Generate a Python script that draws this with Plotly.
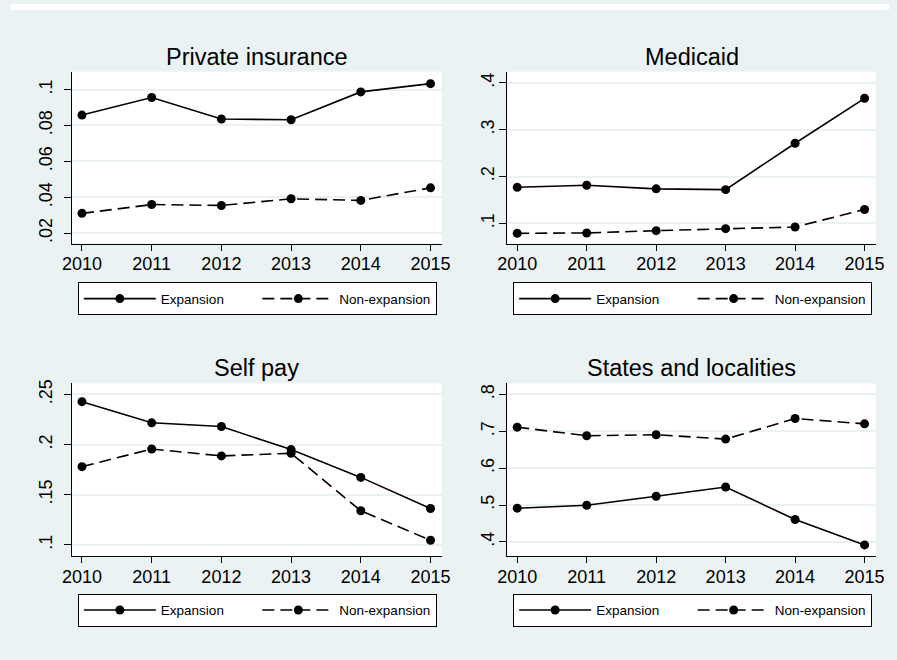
import plotly.graph_objects as go

W, H = 897, 660

years = [2010, 2011, 2012, 2013, 2014, 2015]

titles = ["Private insurance", "Medicaid", "Self pay", "States and localities"]

pi_exp = [0.0858, 0.0956, 0.0836, 0.0832, 0.0987, 0.1033]
pi_non = [0.0311, 0.0360, 0.0355, 0.0392, 0.0383, 0.0453]

med_exp = [0.177, 0.1815, 0.1737, 0.172, 0.271, 0.367]
med_non = [0.0788, 0.0796, 0.0845, 0.0887, 0.0923, 0.1297]

sp_exp = [0.2428, 0.2217, 0.218, 0.195, 0.1673, 0.1363]
sp_non = [0.178, 0.1956, 0.1887, 0.1913, 0.134, 0.1046]

sl_exp = [0.4915, 0.4996, 0.5238, 0.5489, 0.4608, 0.392]
sl_non = [0.7112, 0.688, 0.6907, 0.6789, 0.7346, 0.7203]

pi_ticks = [0.02, 0.04, 0.06, 0.08, 0.1]
pi_ticktext = [".02", ".04", ".06", ".08", ".1"]
med_ticks = [0.1, 0.2, 0.3, 0.4]
med_ticktext = [".1", ".2", ".3", ".4"]
sp_ticks = [0.1, 0.15, 0.2, 0.25]
sp_ticktext = [".1", ".15", ".2", ".25"]
sl_ticks = [0.4, 0.5, 0.6, 0.7, 0.8]
sl_ticktext = [".4", ".5", ".6", ".7", ".8"]

series_names = ["Expansion", "Non-expansion"]

panels = [
    (pi_exp, pi_non, pi_ticks, pi_ticktext, [0.0143, 0.110]),
    (med_exp, med_non, med_ticks, med_ticktext, [0.057, 0.424]),
    (sp_exp, sp_non, sp_ticks, sp_ticktext, [0.089, 0.261]),
    (sl_exp, sl_non, sl_ticks, sl_ticktext, [0.362, 0.830]),
]

BG = "#EAF2F3"
FONT = "Arial, Liberation Sans, sans-serif"

# observed horizontal placement of the paper in the page
X_OFF, W_EFF = 8, 881


def fx(px):
    return (px - X_OFF) / W_EFF


def fy(py):
    return 1 - py / H


# target pixel layout of plot areas (left, right, top, bottom)
boxes = [
    (70, 441, 68, 241),
    (506.3, 876, 68, 241),
    (70, 441, 381.7, 555.3),
    (506.3, 876, 381.7, 555.3),
]
legend_pos = [(76, 280), (512.3, 280), (76, 593.3), (512.3, 593.3)]
ylab_standoff = [5, -2, 5, -2]

fig = go.Figure()
layout = dict(
    width=W, height=H,
    margin=dict(l=0, r=0, t=0, b=0),
    paper_bgcolor=BG,
    plot_bgcolor="white",
    font=dict(family=FONT, color="black"),
    showlegend=True,
    annotations=[],
    shapes=[],
)

for i, (exp, non, tv, tt, yr) in enumerate(panels):
    k = i + 1
    xa = "x" if k == 1 else f"x{k}"
    ya = "y" if k == 1 else f"y{k}"
    lg = "legend" if k == 1 else f"legend{k}"
    l, r, t, b = boxes[i]
    for vals, dash, name in [(exp, "solid", series_names[0]), (non, "12px,6px", series_names[1])]:
        fig.add_trace(go.Scatter(
            x=years, y=vals, mode="lines+markers", name=name,
            line=dict(color="black", width=1.6, dash=dash),
            marker=dict(color="black", size=9),
            xaxis=xa, yaxis=ya, legend=lg, showlegend=True,
        ))
    xkey = "xaxis" if k == 1 else f"xaxis{k}"
    ykey = "yaxis" if k == 1 else f"yaxis{k}"
    layout[xkey] = dict(
        domain=[fx(l), fx(r)], anchor=ya, range=[2009.855, 2015.165],
        tickvals=years, ticktext=[str(y) for y in years],
        showgrid=False, zeroline=False, showline=True, linecolor="black", linewidth=1,
        ticks="outside", ticklen=6, tickcolor="black", tickwidth=1,
        tickfont=dict(size=18, family=FONT, color="black"),
        ticklabelstandoff=-2,
    )
    layout[ykey] = dict(
        domain=[fy(b), fy(t)], anchor=xa, range=yr,
        tickvals=tv, ticktext=tt, tickangle=-90,
        showgrid=True, gridcolor=BG, gridwidth=1.5,
        zeroline=False, showline=True, linecolor="black", linewidth=1,
        ticks="outside", ticklen=7, tickcolor="black", tickwidth=1,
        tickfont=dict(size=18, family=FONT, color="black"),
        ticklabelstandoff=ylab_standoff[i],
    )
    lx, ly = legend_pos[i]
    layout[lg] = dict(
        x=fx(lx), y=fy(ly), xanchor="left", yanchor="top",
        orientation="h", bgcolor="white", bordercolor="black", borderwidth=1,
        font=dict(size=13.5, family=FONT, color="black"),
        itemwidth=72, entrywidth=91.5, entrywidthmode="pixels",
        itemclick=False, itemdoubleclick=False,
    )
    layout["annotations"].append(dict(
        text=titles[i], xref="paper", yref="paper",
        x=fx((l + r) / 2), y=fy(t - 15), xanchor="center", yanchor="middle",
        showarrow=False, font=dict(size=23.5, family=FONT, color="black"),
    ))

# white outer strip along the top
layout["shapes"].append(dict(type="rect", xref="paper", yref="paper", x0=0, x1=1,
                             y0=fy(6), y1=1, fillcolor="white", line=dict(width=0), layer="below"))

fig.update_layout(**layout)
fig.write_html("out.html")
